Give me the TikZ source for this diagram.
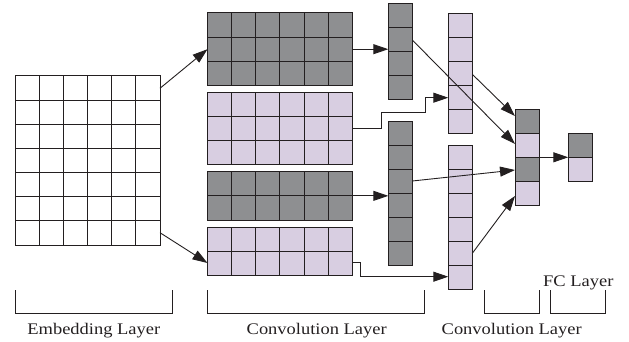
\documentclass[tikz,border=0pt]{standalone}
\usepackage{fontspec}
\newfontfamily\lblfont{Liberation Serif}[FakeStretch=1.14]
\usetikzlibrary{calc,arrows.meta}
\definecolor{gry}{RGB}{142,143,145}
\definecolor{lav}{RGB}{216,206,225}
\definecolor{lc}{RGB}{35,31,32}
\tikzset{
  blockbox/.style={anchor=north west, inner sep=0pt, outer sep=0pt},
  gridline/.style={draw=lc, line width=1pt},
  arr/.style={draw=lc, line width=0.9pt, -{Triangle[length=15pt,width=10pt]}},
  brk/.style={draw=lc, line width=1pt},
  lbl/.style={anchor=base, text=lc, inner sep=0pt, font=\lblfont\fontsize{16.2}{18}\selectfont}
}
% name, x, y, w, h, fill
\newcommand\gridblock[6]{%
  \node[blockbox, fill=#6, minimum width=#4pt, minimum height=#5pt] (#1) at (#2,#3) {};
}
% name, cols, rows
\newcommand\gridlines[3]{%
  \foreach \i in {1,...,#2}{\draw[gridline] ($(#1.north west)!\i/#2!(#1.north east)$) -- ($(#1.south west)!\i/#2!(#1.south east)$);}
  \foreach \j in {1,...,#3}{\draw[gridline] ($(#1.north west)!\j/#3!(#1.south west)$) -- ($(#1.north east)!\j/#3!(#1.south east)$);}
  \draw[gridline, line join=miter] (#1.north west) rectangle (#1.south east);
}
\begin{document}
\begin{tikzpicture}[x=1pt,y=-1pt]
\useasboundingbox (0,0) rectangle (629,342);
% embedding
\gridblock{emb}{15}{76}{145}{169}{white}\gridlines{emb}{6}{7}
% convolution blocks
\gridblock{c1}{207.5}{12.7}{144.8}{73}{gry}\gridlines{c1}{6}{3}
\gridblock{c2}{207.5}{92.3}{144.8}{72}{lav}\gridlines{c2}{6}{3}
\gridblock{c3}{207.5}{171.7}{144.8}{48.3}{gry}\gridlines{c3}{6}{2}
\gridblock{c4}{207.5}{227.3}{144.8}{47.7}{lav}\gridlines{c4}{6}{2}
% vectors
\gridblock{v1}{388.3}{3.3}{24}{96}{gry}\gridlines{v1}{1}{4}
\gridblock{v2}{388.3}{121.7}{24}{143.6}{gry}\gridlines{v2}{1}{6}
\gridblock{l1}{448.3}{13.3}{24}{120}{lav}\gridlines{l1}{1}{5}
\gridblock{l2}{448.3}{145.7}{24}{143.6}{lav}\gridlines{l2}{1}{6}
% merged column
\gridblock{m}{515}{109.3}{24.3}{96}{lav}
\fill[gry] (m.north west) rectangle ($(m.north east)!0.25!(m.south east)$);
\fill[gry] ($(m.north west)!0.5!(m.south west)$) rectangle ($(m.north east)!0.75!(m.south east)$);
\gridlines{m}{1}{4}
% FC
\gridblock{f}{568.3}{133.3}{24.4}{48.4}{lav}
\fill[gry] (f.north west) rectangle (f.east);
\gridlines{f}{1}{2}
% arrows
\draw[arr] ($(emb.north east)+(0,12.3)$) -- (c1.west);
\draw[arr] ($(emb.south east)+(0,-12.3)$) -- ($(c4.south west)+(0,-12)$);
\draw[arr] (c1.east) -- (c1.east -| v1.west);
\draw[arr] (c2.east) -- ++(28.7,0) |- ++(44,-15.6) |- ($(l1.north west)+(0,84.4)$);
\draw[arr] (c3.east) -- (c3.east -| v2.west);
\draw[arr] ($(c4.north east)+(0,35.4)$) -- ++(8.4,0) |- ($(l2.south west)+(0,-12.6)$);
\draw[arr] ($(v1.north east)+(0,36.7)$) -- ($(m.north west)+(0,34.7)$);
\draw[arr] ($(l1.north east)+(0,61)$) -- ($(m.north west)+(0,6.7)$);
\draw[arr] ($(v2.north east)+(0,59.3)$) -- ($(m.north west)+(0,60.7)$);
\draw[arr] ($(l2.north east)+(0,107.6)$) -- ($(m.north west)+(0,86.7)$);
\draw[arr] (m.east) -- (m.east -| f.west);
% brackets
\draw[brk] (15,290) |- (172.3,313.3) -- (172.3,290);
\draw[brk] (207.7,290) |- (424.7,313.3) -- (424.7,290);
\draw[brk] (484.7,290) |- (539,313.3) -- (539,290);
\draw[brk] (550.7,290) |- (605,313.3) -- (605,290);
% labels
\node[lbl] (t1) at (93.8,334) {Embedding Layer};
\node[lbl] (t2) at (316.7,334) {Convolution Layer};
\node[lbl] (t3) at (511.7,334) {Convolution Layer};
\node[lbl] (t4) at (578.3,286.5) {FC Layer};
\end{tikzpicture}
\end{document}
